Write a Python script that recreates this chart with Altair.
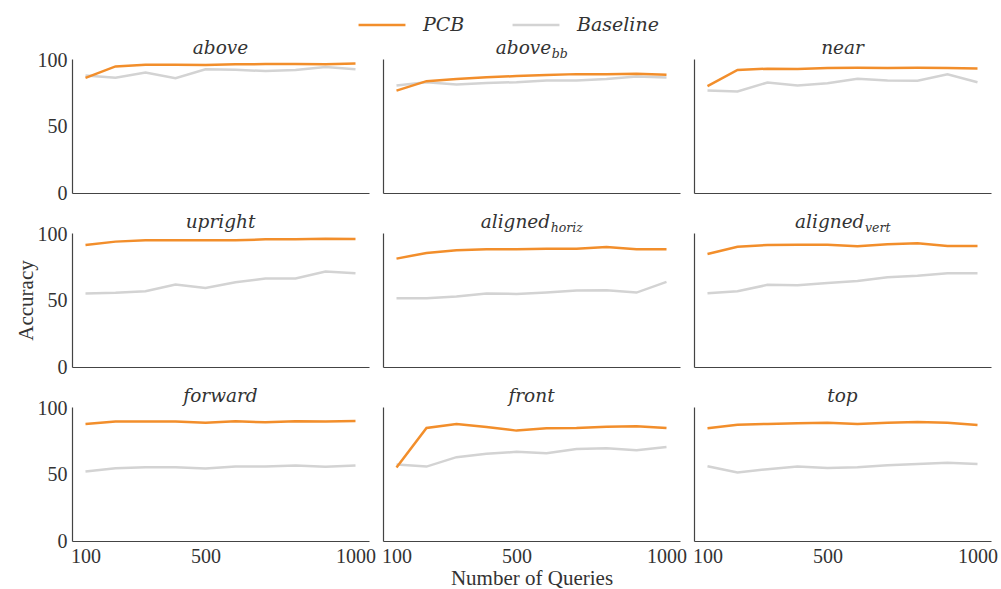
import altair as alt
import pandas as pd

queries = [100, 200, 300, 400, 500, 600, 700, 800, 900, 1000]

panel_main = ["above", "above", "near", "upright", "aligned", "aligned", "forward", "front", "top"]
panel_sub = ["", "bb", "", "", "horiz", "vert", "", "", ""]

pcb_vals = [
    [86.8, 95.4, 96.7, 96.7, 96.5, 97.0, 97.2, 97.2, 97.0, 97.7],
    [77.2, 84.3, 86.0, 87.3, 88.1, 88.9, 89.6, 89.6, 89.9, 89.1],
    [80.5, 92.7, 93.7, 93.4, 94.2, 94.4, 94.2, 94.4, 94.2, 93.9],
    [92.0, 94.5, 95.5, 95.5, 95.5, 95.5, 96.2, 96.2, 96.7, 96.5],
    [81.7, 86.0, 88.0, 88.7, 88.7, 89.2, 89.2, 90.5, 88.7, 88.7],
    [85.2, 90.7, 92.0, 92.2, 92.2, 91.0, 92.5, 93.2, 91.2, 91.2],
    [88.2, 90.0, 90.0, 90.0, 89.2, 90.2, 89.5, 90.2, 90.0, 90.5],
    [55.4, 85.2, 88.2, 86.0, 83.2, 85.0, 85.2, 86.2, 86.5, 85.2],
    [85.0, 87.7, 88.2, 88.7, 89.2, 88.2, 89.2, 89.7, 89.2, 87.5],
]
baseline_vals = [
    [88.6, 86.8, 90.9, 86.6, 93.2, 92.9, 91.9, 92.7, 94.9, 93.2],
    [81.0, 83.5, 81.8, 83.0, 83.5, 84.8, 84.8, 86.0, 87.8, 87.1],
    [77.2, 76.5, 83.3, 81.0, 82.8, 86.1, 84.8, 84.6, 89.4, 83.5],
    [55.4, 55.9, 57.1, 62.2, 59.6, 63.9, 66.7, 66.7, 71.9, 70.7],
    [51.9, 51.9, 53.1, 55.4, 55.1, 56.1, 57.6, 57.9, 56.1, 64.2],
    [55.6, 57.1, 61.9, 61.7, 63.4, 64.9, 67.7, 68.7, 70.7, 70.7],
    [52.4, 54.9, 55.6, 55.6, 54.6, 56.1, 56.1, 56.9, 55.9, 56.9],
    [57.6, 56.1, 63.2, 65.7, 67.2, 66.2, 69.4, 69.9, 68.4, 70.9],
    [56.4, 51.6, 54.1, 56.1, 55.1, 55.6, 57.1, 58.1, 58.9, 58.1],
]

series_names = ["PCB", "Baseline"]
series_colors = ["#F28E2B", "#D3D3D3"]

FONT = "Liberation Serif"
IFONT = "DejaVu Serif"
W, H = 297, 134
TITLE_SIZE = 18.5
SUB_SIZE = 12.5
TEXT_COLOR = "#333333"

# approximate italic glyph widths (em) used to centre main text + subscript
char_w = {"a": .596, "b": .640, "o": .602, "v": .565, "e": .592, "l": .320, "i": .320,
          "g": .640, "n": .644, "d": .640, "h": .644, "r": .478, "z": .525, "t": .402}


def text_width(s, size):
    return sum(char_w.get(c, .6) for c in s) * size


color_scale = alt.Scale(domain=series_names, range=series_colors)

panels = []
for i in range(9):
    row, col = divmod(i, 3)
    df = pd.DataFrame({
        "Queries": queries + queries,
        "Accuracy": baseline_vals[i] + pcb_vals[i],
        "Series": ["Baseline"] * 10 + ["PCB"] * 10,
    })
    x_axis = alt.Axis(values=[100, 500, 1000], labels=(row == 2), labelFlush=False, format="d",
                      title=("Number of Queries" if (row == 2 and col == 1) else None))
    y_axis = alt.Axis(values=[0, 50, 100], labels=(col == 0),
                      title=("Accuracy" if (row == 1 and col == 0) else None))
    if i == 0:
        legend = alt.Legend(title=None, orient="none", direction="horizontal",
                            legendX=285, legendY=-59, symbolType="stroke",
                            symbolSize=2200, symbolStrokeWidth=2.5, labelOffset=16,
                            columnPadding=42, labelFont=IFONT, labelFontSize=19,
                            labelFontStyle="italic", labelColor=TEXT_COLOR)
    else:
        legend = None
    lines = alt.Chart(df).mark_line(strokeWidth=2.5).encode(
        x=alt.X("Queries:Q", scale=alt.Scale(domain=[55, 1045], nice=False), axis=x_axis),
        y=alt.Y("Accuracy:Q", scale=alt.Scale(domain=[0, 101], nice=False), axis=y_axis),
        color=alt.Color("Series:N", scale=color_scale, legend=legend),
    )
    tdf = pd.DataFrame({"main": [panel_main[i]], "sub": [panel_sub[i]]})
    title_style = dict(font=IFONT, fontStyle="italic", fontWeight="normal", baseline="alphabetic",
                       color=TEXT_COLOR)
    if panel_sub[i]:
        mw = text_width(panel_main[i], TITLE_SIZE)
        sw = text_width(panel_sub[i], SUB_SIZE)
        end_x = W / 2 - (mw + sw) / 2 + mw
        t_main = alt.Chart(tdf).mark_text(fontSize=TITLE_SIZE, align="right", **title_style).encode(
            text="main:N", x=alt.value(end_x), y=alt.value(-5))
        t_sub = alt.Chart(tdf).mark_text(fontSize=SUB_SIZE, align="left", **title_style).encode(
            text="sub:N", x=alt.value(end_x + 0.5), y=alt.value(-1))
        panel = alt.layer(lines, t_main, t_sub).properties(width=W, height=H)
    else:
        t_main = alt.Chart(tdf).mark_text(fontSize=TITLE_SIZE, align="center", **title_style).encode(
            text="main:N", x=alt.value(W / 2), y=alt.value(-5))
        panel = alt.layer(lines, t_main).properties(width=W, height=H)
    panels.append(panel)

chart = alt.concat(*panels, columns=3, spacing={"row": 40, "column": 14}, bounds="flush").properties(
    padding={"left": 15, "top": 0, "right": 0, "bottom": 0}
).configure_view(stroke=None).configure_axis(
    labelFont=FONT, labelFontSize=20, labelColor=TEXT_COLOR, labelPadding=5,
    titleFont=FONT, titleFontSize=21, titleFontWeight="normal", titleColor=TEXT_COLOR, titlePadding=1,
    domainColor="#444444", domainWidth=1.2, ticks=False, grid=False,
)

chart.save("out.html", embed_options={"renderer": "svg", "actions": False})
